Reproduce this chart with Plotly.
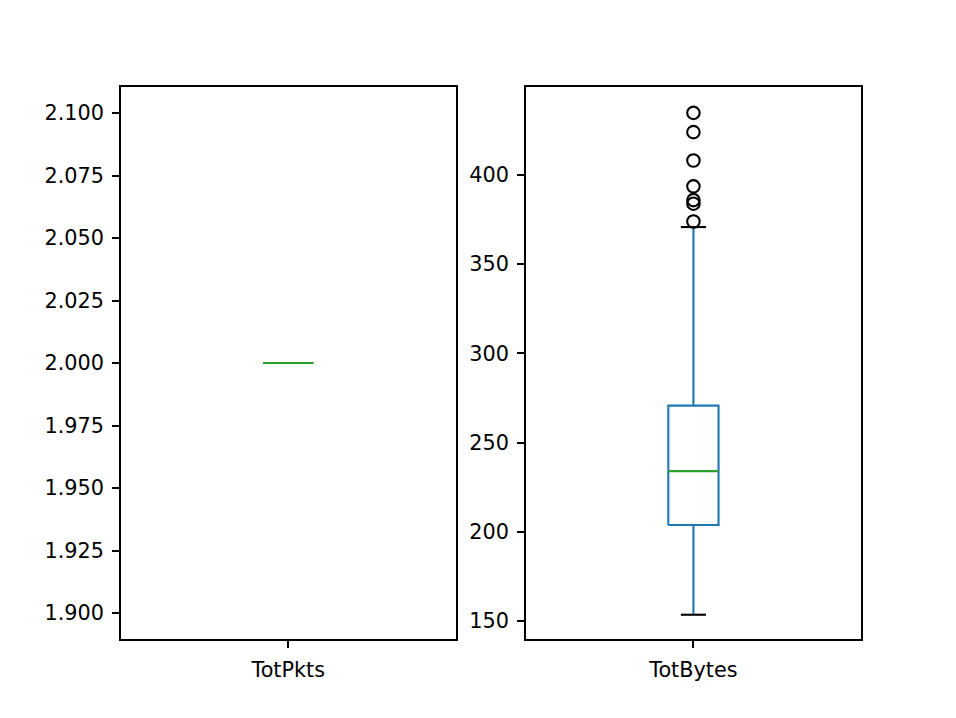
import plotly.graph_objects as go

# ---- data ----
categories = ["TotPkts", "TotBytes"]
# [lower whisker, q1, median, q3, upper whisker]
totpkts_stats = [2.0, 2.0, 2.0, 2.0, 2.0]
totbytes_stats = [153.5, 203.8, 234.0, 270.7, 370.8]
totpkts_outliers = []
totbytes_outliers = [434.8, 424.0, 408.1, 393.6, 385.9, 383.9, 373.9]
totpkts_ticks = [1.900, 1.925, 1.950, 1.975, 2.000, 2.025, 2.050, 2.075, 2.100]
totbytes_ticks = [150, 200, 250, 300, 350, 400]

BLUE = "#1f77b4"
GREEN = "#2ca02c"
FONT = "DejaVu Sans"

fig = go.Figure()

def add_box(stats, outliers, xa, ya, pos=1.0, width=0.15):
    lo, q1, med, q3, hi = stats
    h = width / 2
    c = width / 4
    # box
    fig.add_trace(go.Scatter(x=[pos - h, pos + h, pos + h, pos - h, pos - h],
                             y=[q1, q1, q3, q3, q1], mode="lines",
                             line=dict(color=BLUE, width=2.1), xaxis=xa, yaxis=ya,
                             hoverinfo="skip", showlegend=False))
    # whiskers
    fig.add_trace(go.Scatter(x=[pos, pos, None, pos, pos], y=[q1, lo, None, q3, hi],
                             mode="lines", line=dict(color=BLUE, width=2.1),
                             xaxis=xa, yaxis=ya, hoverinfo="skip", showlegend=False))
    # caps
    fig.add_trace(go.Scatter(x=[pos - c, pos + c, None, pos - c, pos + c],
                             y=[lo, lo, None, hi, hi], mode="lines",
                             line=dict(color="black", width=2.1),
                             xaxis=xa, yaxis=ya, hoverinfo="skip", showlegend=False))
    # median
    fig.add_trace(go.Scatter(x=[pos - h, pos + h], y=[med, med], mode="lines",
                             line=dict(color=GREEN, width=2.1),
                             xaxis=xa, yaxis=ya, hoverinfo="skip", showlegend=False))
    # outliers
    if outliers:
        fig.add_trace(go.Scatter(x=[pos] * len(outliers), y=outliers, mode="markers",
                                 marker=dict(symbol="circle-open", size=12.5,
                                             color="black", line=dict(width=2.1)),
                                 xaxis=xa, yaxis=ya, hoverinfo="skip", showlegend=False))

add_box(totpkts_stats, totpkts_outliers, "x", "y")
add_box(totbytes_stats, totbytes_outliers, "x2", "y2")

axis_common = dict(showline=True, linecolor="black", linewidth=1.7, mirror=True,
                   ticks="outside", ticklen=7, tickwidth=1.7, tickcolor="black",
                   showgrid=False, zeroline=False, ticklabelstandoff=4,
                   tickfont=dict(family=FONT, size=20.8, color="black"))

fig.update_layout(
    width=956, height=718,
    margin=dict(l=113, r=102, t=79, b=87),
    paper_bgcolor="white", plot_bgcolor="white",
    showlegend=False,
    xaxis=dict(domain=[0, 0.4515], range=[0.5, 1.5], tickvals=[1],
               ticktext=[categories[0]], **axis_common),
    xaxis2=dict(domain=[0.5465, 0.9985], range=[0.5, 1.5], tickvals=[1],
                ticktext=[categories[1]], anchor="y2", **axis_common),
    yaxis=dict(range=[1.8896, 2.1104], tickvals=totpkts_ticks,
               ticktext=[f"{v:.3f}" for v in totpkts_ticks], **axis_common),
    yaxis2=dict(range=[139.9, 449.3], tickvals=totbytes_ticks,
                ticktext=[str(v) for v in totbytes_ticks], anchor="x2", **axis_common),
)

fig.write_html("out.html")
